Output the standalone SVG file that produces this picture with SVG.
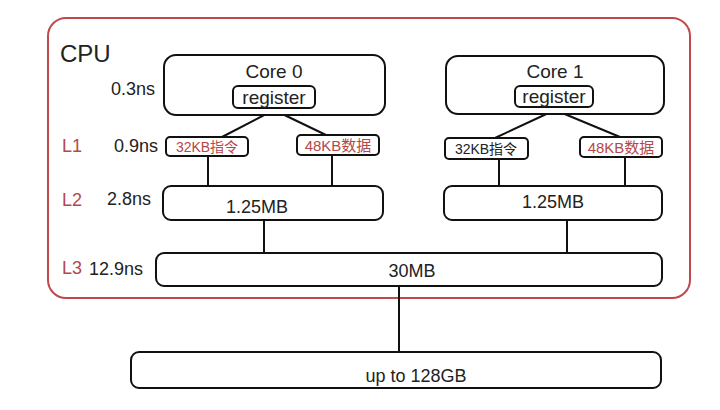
<svg xmlns="http://www.w3.org/2000/svg" width="720" height="410" viewBox="0 0 720 410">
<style>
text{font-family:"Liberation Sans",Arial,"Noto Sans CJK SC",sans-serif;fill:#222}
.b{fill:#fff;stroke:#111;stroke-width:2}
.r{fill:#b5484a}
.c{stroke:#111;stroke-width:2;fill:none}
</style>
<rect width="720" height="410" fill="#fff"/>
<rect x="48" y="18" width="642" height="280" rx="18" fill="none" stroke="#c0494b" stroke-width="2"/>
<text x="60" y="62" font-size="24">CPU</text>
<text x="111" y="95" font-size="18">0.3ns</text>
<text x="62" y="152" font-size="18" class="r">L1</text>
<text x="114" y="152" font-size="18">0.9ns</text>
<text x="62" y="206" font-size="18" class="r">L2</text>
<text x="107" y="205" font-size="18">2.8ns</text>
<text x="62" y="274" font-size="18" class="r">L3</text>
<text x="89" y="275" font-size="18">12.9ns</text>
<g id="connectors" class="c">
<path d="M274 110L222 137M274 110L326 135M208 156V186M332 155V185"/>
<path d="M555 110L495 138M555 110L620 137M499 159V186M625 157V186"/>
<path d="M264 220V253M567 220V253M399 286V352"/>
</g>
<g id="core0"><rect class="b" x="164" y="55" width="221" height="60" rx="12"/><text x="274" y="78" font-size="19" text-anchor="middle">Core 0</text></g>
<g id="reg0"><rect class="b" x="233" y="86" width="82" height="22" rx="5"/><text x="274" y="104" font-size="19" text-anchor="middle">register</text></g>
<g id="core1"><rect class="b" x="446" y="56" width="218" height="58" rx="12"/><text x="555" y="78" font-size="19" text-anchor="middle">Core 1</text></g>
<g id="reg1"><rect class="b" x="515" y="86" width="78" height="21" rx="5"/><text x="554" y="103" font-size="19" text-anchor="middle">register</text></g>
<g id="l1i0"><rect class="b" x="166" y="137" width="82" height="19" rx="4"/><text x="207" y="152" font-size="14" text-anchor="middle" class="r">32KB指令</text></g>
<g id="l1d0"><rect class="b" x="297" y="135" width="82" height="20" rx="4"/><text x="338" y="151" font-size="15" text-anchor="middle" class="r">48KB数据</text></g>
<g id="l1i1"><rect class="b" x="445" y="138" width="83" height="21" rx="4"/><text x="486" y="154" font-size="14" text-anchor="middle">32KB指令</text></g>
<g id="l1d1"><rect class="b" x="580" y="137" width="82" height="20" rx="4"/><text x="621" y="153" font-size="15" text-anchor="middle" class="r">48KB数据</text></g>
<g id="l2c0"><rect class="b" x="163" y="186" width="220" height="34" rx="8"/><text x="257" y="213" font-size="18" text-anchor="middle">1.25MB</text></g>
<g id="l2c1"><rect class="b" x="444" y="186" width="218" height="34" rx="8"/><text x="553" y="208" font-size="18" text-anchor="middle">1.25MB</text></g>
<g id="l3"><rect class="b" x="156" y="253" width="506" height="33" rx="8"/><text x="412" y="277" font-size="18" text-anchor="middle">30MB</text></g>
<g id="ram"><rect class="b" x="131" y="352" width="530" height="36" rx="8"/><text x="416" y="382" font-size="18" text-anchor="middle">up to 128GB</text></g>
</svg>
